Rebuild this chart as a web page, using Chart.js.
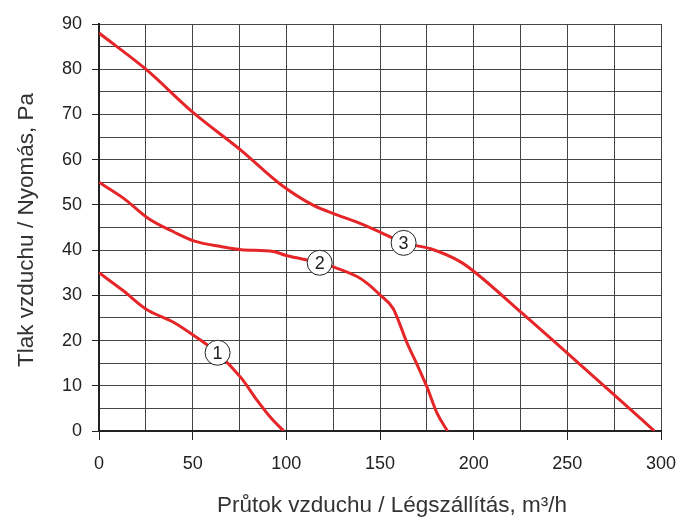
<!DOCTYPE html>
<html>
<head>
<meta charset="utf-8">
<script src="https://cdn.jsdelivr.net/npm/chart.js@4"></script>
<style>
  body { margin: 0; background: #fff; }
  canvas { display: block; }
</style>
</head>
<body>
<canvas id="chart" width="681" height="518"></canvas>
<script>
// flow m3/h and pressure Pa
var curve1X = [0, 13, 25, 40, 51, 63, 76, 84, 92, 98.6]
var curve1Y = [35, 31, 27, 24, 21, 17.3, 11.7, 7, 2.8, 0]

var curve2X = [0, 13, 27, 40, 51, 65, 76, 93, 100, 118, 125, 138, 143, 150, 157, 164.5, 170, 175, 180.5, 186]
var curve2Y = [55, 51.5, 46.8, 44, 42, 40.8, 40.1, 39.7, 38.8, 37.2, 36.3, 34.1, 32.7, 30.1, 27.1, 19.4, 14.5, 9.8, 3.9, 0]

var curve3X = [0, 25, 50, 76, 97, 114, 127, 140, 150, 162.6, 177, 193, 201, 226, 250, 275, 296.5]
var curve3Y = [88, 80, 70.5, 62, 54.5, 50, 47.8, 45.8, 44, 41.6, 40.3, 37.4, 35, 26, 17.2, 8, 0]

// numbered markers on the curves
var markerText = ['1', '2', '3']
var markerX = [63.3, 117.8, 162.6]
var markerY = [17.3, 37.2, 41.6]

var xTickLabels = [0, 50, 100, 150, 200, 250, 300]
var yTickLabels = [0, 10, 20, 30, 40, 50, 60, 70, 80, 90]

function points(xs, ys) {
  return xs.map(function (x, i) { return { x: x, y: ys[i] } })
}

var red = '#e52528'
var font = '"Liberation Sans", Arial, sans-serif'

function lineSet(xs, ys) {
  return {
    data: points(xs, ys),
    showLine: true,
    borderColor: red,
    borderWidth: 3,
    pointRadius: 0,
    cubicInterpolationMode: 'monotone',
    fill: false
  }
}

var overlay = {
  id: 'overlay',
  afterDatasetsDraw: function (chart) {
    var ctx = chart.ctx
    var xs = chart.scales.x, ys = chart.scales.y
    ctx.save()
    ctx.font = '18px ' + font
    ctx.textAlign = 'center'
    ctx.textBaseline = 'middle'
    for (var i = 0; i < markerText.length; i++) {
      var px = xs.getPixelForValue(markerX[i])
      var py = ys.getPixelForValue(markerY[i])
      ctx.beginPath()
      ctx.arc(px, py, 12.5, 0, Math.PI * 2)
      ctx.fillStyle = '#fff'
      ctx.fill()
      ctx.lineWidth = 1
      ctx.strokeStyle = '#222'
      ctx.stroke()
      ctx.fillStyle = '#222'
      ctx.fillText(markerText[i], px, py + 1)
    }
    // axis titles
    ctx.font = '22.5px ' + font
    ctx.fillStyle = '#333'
    ctx.textBaseline = 'alphabetic'
    ctx.fillText('Průtok vzduchu / Légszállítás, m³/h', 392, 512)
    ctx.translate(33, 230)
    ctx.rotate(-Math.PI / 2)
    ctx.fillText('Tlak vzduchu / Nyomás, Pa', 0, 0)
    ctx.restore()
  }
}

new Chart(document.getElementById('chart'), {
  type: 'scatter',
  data: {
    datasets: [
      lineSet(curve1X, curve1Y),
      lineSet(curve2X, curve2Y),
      lineSet(curve3X, curve3Y)
    ]
  },
  options: {
    responsive: false,
    animation: false,
    layout: { padding: { top: 24, right: 20, left: 0, bottom: 0 } },
    plugins: {
      legend: { display: false },
      tooltip: { enabled: false }
    },
    scales: {
      x: {
        type: 'linear',
        min: 0,
        max: 300,
        afterFit: function (s) {
          s.height = 87
          s.paddingLeft = 0
          s.paddingRight = 0
        },
        ticks: {
          stepSize: 25,
          autoSkip: false,
          maxRotation: 0,
          color: '#222',
          font: { family: font, size: 18 },
          padding: 13,
          callback: function (v) { return xTickLabels.indexOf(v) >= 0 ? String(v) : '' }
        },
        grid: {
          color: '#444',
          lineWidth: 1,
          tickLength: 9,
          tickColor: function (c) {
            return c.tick && xTickLabels.indexOf(c.tick.value) >= 0 ? '#222' : 'rgba(0,0,0,0)'
          }
        },
        border: { color: '#222', width: 2 }
      },
      y: {
        type: 'linear',
        min: 0,
        max: 90,
        afterFit: function (s) {
          s.width = 99
          s.paddingTop = 0
          s.paddingBottom = 0
        },
        ticks: {
          stepSize: 5,
          autoSkip: false,
          color: '#222',
          font: { family: font, size: 18 },
          padding: 10,
          callback: function (v) { return yTickLabels.indexOf(v) >= 0 ? String(v) : '' }
        },
        grid: {
          color: '#444',
          lineWidth: 1,
          tickLength: 7,
          tickColor: function (c) {
            return c.tick && yTickLabels.indexOf(c.tick.value) >= 0 ? '#222' : 'rgba(0,0,0,0)'
          }
        },
        border: { color: '#222', width: 2 }
      }
    }
  },
  plugins: [overlay]
})
</script>
</body>
</html>
